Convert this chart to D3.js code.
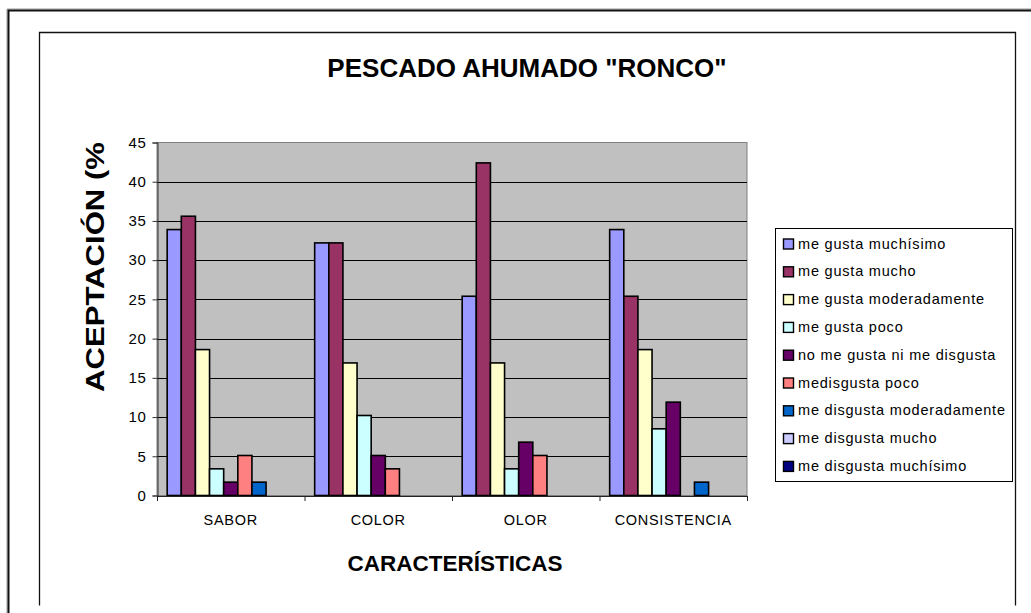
<!DOCTYPE html>
<html><head><meta charset="utf-8">
<script src="https://cdn.jsdelivr.net/npm/d3@7"></script>
<style>
html,body{margin:0;padding:0;background:#fff;}
svg{display:block;font-family:"Liberation Sans",Arial,sans-serif;}
</style></head>
<body><svg id="c" width="1031" height="613"></svg>
<script>
const categories = ["SABOR", "COLOR", "OLOR", "CONSISTENCIA"];
const seriesNames = [
  "me gusta muchísimo",
  "me gusta mucho",
  "me gusta moderadamente",
  "me gusta poco",
  "no me gusta ni me disgusta",
  "medisgusta poco",
  "me disgusta moderadamente",
  "me disgusta mucho",
  "me disgusta muchísimo"
];
const seriesColors = ["#9999FF","#993366","#FFFFCC","#CCFFFF","#660066","#FF8080","#0066CC","#CCCCFF","#000080"];
// values per series, in category order SABOR, COLOR, OLOR, CONSISTENCIA
const s1 = [33.9, 32.2, 25.4, 33.9];
const s2 = [35.6, 32.2, 42.4, 25.4];
const s3 = [18.6, 16.9, 16.9, 18.6];
const s4 = [3.4, 10.2, 3.4, 8.5];
const s5 = [1.7, 5.1, 6.8, 11.9];
const s6 = [5.1, 3.4, 5.1, 0];
const s7 = [1.7, 0, 0, 1.7];
const s8 = [0, 0, 0, 0];
const s9 = [0, 0, 0, 0];
const seriesValues = [s1, s2, s3, s4, s5, s6, s7, s8, s9];
const yTicks = [0, 5, 10, 15, 20, 25, 30, 35, 40, 45];
const title = 'PESCADO AHUMADO "RONCO"';
const xTitle = "CARACTERÍSTICAS";
const yTitle = "ACEPTACIÓN (%";

const svg = d3.select("#c");

// outer and inner frames
svg.append("path").attr("d","M7,613V9H1031").attr("fill","none").attr("stroke","#999").attr("stroke-width",1);
svg.append("path").attr("d","M8.5,613V10.5H1031").attr("fill","none").attr("stroke","#111").attr("stroke-width",2);
svg.append("path").attr("d","M39.5,605.5V32.5H1015.5V605.5").attr("fill","none").attr("stroke","#111").attr("stroke-width",1.3);

const L = 157, R = 747, T = 142.5, B = 495.5;
const x0 = d3.scaleBand().domain(categories).range([L, R]).paddingInner(0).paddingOuter(0);
const x1 = d3.scaleBand().domain(d3.range(seriesNames.length)).range([0, x0.bandwidth()]).paddingInner(0).paddingOuter(0.72);
const y = d3.scaleLinear().domain([0, 45]).range([B, T]);

// plot background
svg.append("rect").attr("x",L).attr("y",T).attr("width",R-L).attr("height",B-T).attr("fill","#C0C0C0").attr("stroke","#808080").attr("stroke-width",1);

// gridlines
svg.append("g").selectAll("line").data(yTicks.filter(t=>t>0 && t<45)).join("line")
  .attr("x1",L).attr("x2",R).attr("y1",d=>Math.round(y(d))+0.5).attr("y2",d=>Math.round(y(d))+0.5)
  .attr("stroke","#000").attr("stroke-width",1);

// bars
const g = svg.append("g");
seriesValues.forEach((vals, si) => {
  g.append("g").selectAll("rect").data(vals.map((v,ci)=>({v, c:categories[ci]}))).join("rect")
    .attr("x", d => x0(d.c) + x1(si))
    .attr("width", x1.bandwidth())
    .attr("y", d => y(d.v))
    .attr("height", d => B - y(d.v))
    .attr("fill", seriesColors[si])
    .attr("stroke", d => d.v > 0 ? "#000" : "none")
    .attr("stroke-width", 1.6);
});

// y axis
const yAxis = d3.axisLeft(y).tickValues(yTicks).tickSize(5).tickPadding(6);
const ya = svg.append("g").attr("transform",`translate(${L+0.5},0)`).call(yAxis);
ya.select(".domain").attr("stroke","#333");
ya.selectAll(".tick line").attr("stroke","#333");
ya.selectAll("text").attr("font-size",15).attr("fill","#000").style("font-family","'Liberation Sans',Arial,sans-serif").attr("letter-spacing","0.6");

// x axis
const xAxis = d3.axisBottom(d3.scaleLinear().domain([0,4]).range([L,R])).tickValues([0,1,2,3,4]).tickSize(5).tickFormat("");
const xa = svg.append("g").attr("transform",`translate(0,${B+0.5})`).call(xAxis);
xa.select(".domain").attr("stroke","#222");
xa.selectAll(".tick line").attr("stroke","#222");
svg.append("g").selectAll("text").data(categories).join("text")
  .attr("x", d => x0(d) + x0.bandwidth()/2).attr("y", 525)
  .attr("text-anchor","middle").attr("font-size",14.5).attr("letter-spacing","0.7").text(d=>d);

// titles
svg.append("text").attr("x",527).attr("y",77).attr("text-anchor","middle").attr("font-size",26).attr("font-weight","bold").text(title);
svg.append("text").attr("x",455).attr("y",571).attr("text-anchor","middle").attr("font-size",22.5).attr("font-weight","bold").text(xTitle);
svg.append("text").attr("transform","translate(104,392) rotate(-90)").attr("text-anchor","start").attr("font-size",26)
  .attr("font-weight","bold").attr("textLength",250).attr("lengthAdjust","spacingAndGlyphs").text(yTitle);

// legend
const lg = svg.append("g");
lg.append("rect").attr("x",775.5).attr("y",228.5).attr("width",237).attr("height",253).attr("fill","#fff").attr("stroke","#000").attr("stroke-width",1);
const li = lg.selectAll("g.item").data(seriesNames).join("g").attr("class","item")
  .attr("transform",(d,i)=>`translate(783,${243.5 + i*27.8})`);
li.append("rect").attr("x",0.5).attr("y",-4.5).attr("width",10).attr("height",10)
  .attr("fill",(d,i)=>seriesColors[i]).attr("stroke","#000").attr("stroke-width",1.4);
li.append("text").attr("x",15).attr("y",5).attr("font-size",14.5).attr("letter-spacing","0.8").text(d=>d);
</script></body></html>
